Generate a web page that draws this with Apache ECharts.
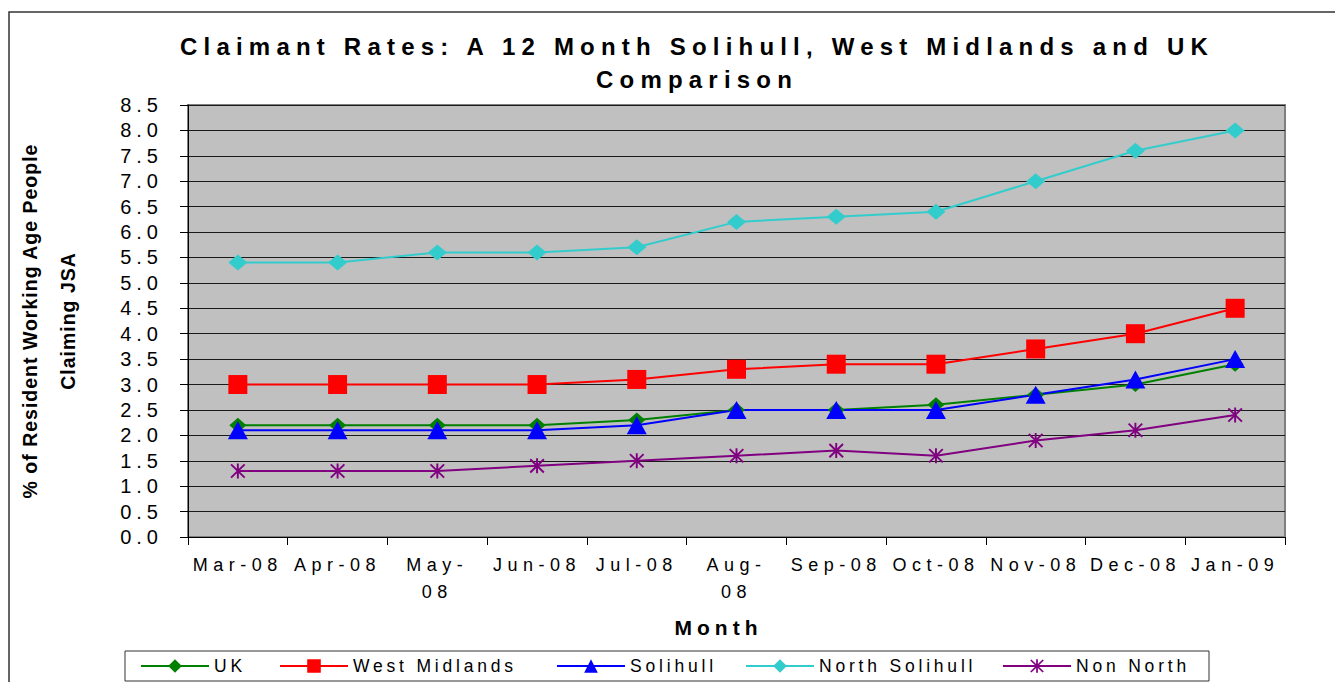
<!DOCTYPE html>
<html>
<head>
<meta charset="utf-8">
<script src="https://cdn.jsdelivr.net/npm/echarts@6/dist/echarts.min.js"></script>
<style>
  body { margin: 0; background: #fff; }
  #chart { width: 1335px; height: 682px; }
  /* Excel-style letter spacing, picked out by font size */
  #chart text[style*="24px"] { letter-spacing: 6.2px; }
  #chart text[style*="21px"] { letter-spacing: 5px; }
  #chart text[style*="20px"] { letter-spacing: 5px; }
  #chart text[style*="18px"] { letter-spacing: 5.5px; }
  #chart text[style*="17.5px"] { letter-spacing: 3.8px; }
  #chart text[style*="19.5px"] { letter-spacing: 1px; }
</style>
</head>
<body>
<div id="chart"></div>
<script>
var months = ['Mar-08', 'Apr-08', 'May-08', 'Jun-08', 'Jul-08', 'Aug-08', 'Sep-08', 'Oct-08', 'Nov-08', 'Dec-08', 'Jan-09'];
var wrappedMonths = ['May-08', 'Aug-08'];

var uk = [2.2, 2.2, 2.2, 2.2, 2.3, 2.5, 2.5, 2.6, 2.8, 3.0, 3.4];
var westMidlands = [3.0, 3.0, 3.0, 3.0, 3.1, 3.3, 3.4, 3.4, 3.7, 4.0, 4.5];
var solihull = [2.1, 2.1, 2.1, 2.1, 2.2, 2.5, 2.5, 2.5, 2.8, 3.1, 3.5];
var northSolihull = [5.4, 5.4, 5.6, 5.6, 5.7, 6.2, 6.3, 6.4, 7.0, 7.6, 8.0];
var nonNorth = [1.3, 1.3, 1.3, 1.4, 1.5, 1.6, 1.7, 1.6, 1.9, 2.1, 2.4];

var yMin = 0, yMax = 8.5, yStep = 0.5;

var asterisk = 'path://M-1,-8L1,-8L1,8L-1,8Z' +
  'M-7.78,-6.36L-6.36,-7.78L7.78,6.36L6.36,7.78Z' +
  'M-6.36,7.78L-7.78,6.36L6.36,-7.78L7.78,-6.36Z';

var font = 'Arial, "Liberation Sans", sans-serif';

function mkSeries(name, data, color, symbol, size) {
  return {
    name: name,
    type: 'line',
    data: data,
    symbol: symbol,
    symbolSize: size,
    lineStyle: { color: color, width: 2 },
    itemStyle: { color: color, borderWidth: 0 },
    emphasis: { disabled: true }
  };
}

function mkLegend(name, left) {
  return {
    data: [name],
    left: left,
    top: 657,
    padding: 0,
    itemWidth: 68,
    itemHeight: 17,
    selectedMode: false,
    textStyle: { fontSize: 17.5, color: '#000', fontFamily: font }
  };
}

var chart = echarts.init(document.getElementById('chart'), null, { renderer: 'svg' });

chart.setOption({
  animation: false,
  backgroundColor: '#fff',
  title: {
    text: 'Claimant Rates: A 12 Month Solihull, West Midlands and UK\nComparison',
    left: 697,
    top: 30,
    padding: 0,
    textAlign: 'center',
    textStyle: { fontSize: 24, fontWeight: 'bold', lineHeight: 33, color: '#000', fontFamily: font }
  },
  graphic: [
    { type: 'rect', shape: { x: 9, y: 12, width: 1400, height: 720 }, style: { fill: 'none', stroke: '#333', lineWidth: 1.5 }, silent: true },
    { type: 'rect', shape: { x: 125, y: 651, width: 1084, height: 30 }, style: { fill: 'none', stroke: '#333', lineWidth: 1 }, silent: true }
  ],
  legend: [
    mkLegend('UK', 140),
    mkLegend('West Midlands', 279),
    mkLegend('Solihull', 556),
    mkLegend('North Solihull', 745),
    mkLegend('Non North', 1002)
  ],
  grid: {
    left: 188, right: 50, top: 105, bottom: 145,
    show: true,
    backgroundColor: '#c0c0c0',
    borderColor: '#808080',
    borderWidth: 2
  },
  xAxis: {
    type: 'category',
    data: months,
    boundaryGap: true,
    name: 'Month',
    nameLocation: 'middle',
    nameGap: 80,
    nameTextStyle: { fontSize: 21, fontWeight: 'bold', color: '#000', fontFamily: font, padding: [0, 36, 0, 0] },
    axisLine: { lineStyle: { color: '#000', width: 1 } },
    axisTick: { show: true, length: 8, lineStyle: { color: '#000' } },
    axisLabel: {
      interval: 0,
      margin: 14,
      fontSize: 18,
      lineHeight: 27,
      color: '#000',
      fontFamily: font,
      formatter: function (v) {
        return wrappedMonths.indexOf(v) >= 0 ? v.replace('-', '-\n') : v;
      }
    },
    splitLine: { show: false }
  },
  yAxis: {
    type: 'value',
    min: yMin,
    max: yMax,
    interval: yStep,
    name: '% of Resident Working Age People\nClaiming JSA',
    nameLocation: 'middle',
    nameRotate: 90,
    nameGap: 101,
    nameTextStyle: { fontSize: 19.5, fontWeight: 'bold', lineHeight: 38, color: '#000', fontFamily: font },
    axisLine: { show: true, lineStyle: { color: '#000', width: 1 } },
    axisTick: { show: true, length: 8, lineStyle: { color: '#000' } },
    axisLabel: {
      margin: 25,
      fontSize: 20,
      color: '#000',
      fontFamily: font,
      formatter: function (v) { return v.toFixed(1); }
    },
    splitLine: { show: true, lineStyle: { color: '#1a1a1a', width: 1 } }
  },
  series: [
    mkSeries('UK', uk, '#008000', 'diamond', [17, 15]),
    mkSeries('West Midlands', westMidlands, '#ff0000', 'rect', 19),
    mkSeries('Solihull', solihull, '#0000ff', 'triangle', [20, 18]),
    mkSeries('North Solihull', northSolihull, '#33cccc', 'diamond', [19, 16]),
    mkSeries('Non North', nonNorth, '#800080', asterisk, 15)
  ]
});

window.addEventListener('resize', function () {
  chart.resize();
});
</script>
</body>
</html>
